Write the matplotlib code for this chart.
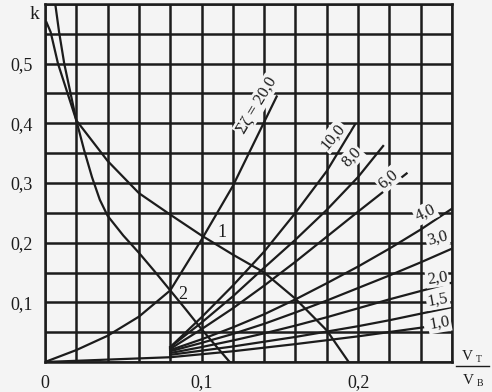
import numpy as np
import matplotlib.pyplot as plt
from matplotlib.lines import Line2D

plt.rcParams["font.family"] = ["Liberation Serif", "DejaVu Serif"]

INK = "#1c1c1c"
PAPER = "#f4f4f4"

# curve 1 and curve 2 (falling)
curve1_x = [0.001, 0.0036, 0.0083, 0.02, 0.04, 0.06, 0.08, 0.10, 0.12, 0.14, 0.16, 0.18, 0.194]
curve1_k = [0.569, 0.553, 0.500, 0.405, 0.337, 0.283, 0.247, 0.212, 0.180, 0.150, 0.106, 0.053, 0.0]
curve2_x = [0.0064, 0.009, 0.0123, 0.02, 0.025, 0.03, 0.035, 0.04, 0.05, 0.06, 0.07, 0.08, 0.09, 0.10, 0.118]
curve2_k = [0.603, 0.553, 0.500, 0.405, 0.355, 0.310, 0.272, 0.245, 0.212, 0.183, 0.152, 0.120, 0.088, 0.055, 0.0]

# sum zeta = 20,0 (from origin)
z20_x = [0.0, 0.02, 0.04, 0.06, 0.08, 0.10, 0.12, 0.148]
z20_k = [0.0, 0.020, 0.044, 0.076, 0.120, 0.205, 0.295, 0.445]

# base segment from origin to the pole of the fan
base_x = [0.0, 0.08]
base_k = [0.0, 0.008]

# fan of curves, by sum zeta
fan_labels = ["10,0", "8,0", "6,0", "4,0", "3,0", "2,0", "1,5", "1,0"]
fan_x = [
    [0.08, 0.10, 0.12, 0.14, 0.16, 0.18, 0.198],
    [0.08, 0.10, 0.12, 0.14, 0.16, 0.18, 0.20, 0.216],
    [0.08, 0.10, 0.12, 0.14, 0.16, 0.18, 0.20, 0.231],
    [0.08, 0.10, 0.12, 0.14, 0.16, 0.18, 0.20, 0.22, 0.24, 0.26],
    [0.08, 0.10, 0.12, 0.14, 0.16, 0.18, 0.20, 0.22, 0.24, 0.26],
    [0.08, 0.10, 0.12, 0.14, 0.16, 0.18, 0.20, 0.22, 0.24, 0.26],
    [0.08, 0.10, 0.12, 0.14, 0.16, 0.18, 0.20, 0.22, 0.24, 0.26],
    [0.08, 0.12, 0.16, 0.20, 0.2415],
]
fan_k = [
    [0.025, 0.075, 0.128, 0.185, 0.250, 0.320, 0.398],
    [0.025, 0.066, 0.110, 0.158, 0.205, 0.255, 0.310, 0.362],
    [0.022, 0.055, 0.090, 0.128, 0.168, 0.210, 0.252, 0.316],
    [0.020, 0.038, 0.058, 0.080, 0.105, 0.132, 0.160, 0.190, 0.222, 0.257],
    [0.018, 0.032, 0.047, 0.064, 0.083, 0.103, 0.124, 0.145, 0.167, 0.190],
    [0.015, 0.025, 0.036, 0.048, 0.061, 0.075, 0.090, 0.105, 0.119, 0.133],
    [0.012, 0.019, 0.026, 0.034, 0.042, 0.051, 0.060, 0.070, 0.081, 0.092],
    [0.008, 0.018, 0.030, 0.043, 0.058],
]
# label anchor (x, k) and angle for each fan curve
fan_label_x = [0.184, 0.196, 0.219, 0.243, 0.2505, 0.2505, 0.251, 0.252]
fan_label_k = [0.378, 0.343, 0.306, 0.250, 0.207, 0.141, 0.104, 0.065]
fan_label_rot = [50, 47, 40, 25, 15, 8, 10, 10]

x_ticks = [0.0, 0.1, 0.2]
x_tick_labels = ["0", "0,1", "0,2"]
y_ticks = [0.1, 0.2, 0.3, 0.4, 0.5]
y_tick_labels = ["0,1", "0,2", "0,3", "0,4", "0,5"]

fig = plt.figure(figsize=(4.92, 3.92), dpi=100, facecolor=PAPER)
ax = fig.add_axes([45 / 492, 30 / 392, 407 / 492, 358 / 392])
ax.set_facecolor(PAPER)
ax.set_xlim(0, 0.26)
ax.set_ylim(0, 0.6)

# grid every 0.02 on x and 0.05 on k
gx = np.round(np.arange(0, 0.2601, 0.02), 3)
gy = np.round(np.arange(0, 0.6001, 0.05), 3)
ax.set_xticks(gx)
ax.set_yticks(gy)
ax.set_xticklabels([x_tick_labels[x_ticks.index(v)] if v in x_ticks else "" for v in gx], fontsize=13)
ax.set_yticklabels([y_tick_labels[y_ticks.index(v)] if v in y_ticks else "" for v in gy], fontsize=13)
ax.tick_params(length=0, pad=9, colors=INK)
ax.grid(True, color=INK, linewidth=1.8)
ax.set_axisbelow(True)
for s in ax.spines.values():
    s.set_color(INK)
    s.set_linewidth(1.8)

lw = 1.6
ax.plot(curve1_x, curve1_k, color=INK, lw=lw)
ax.plot(curve2_x, curve2_k, color=INK, lw=lw)
ax.plot(z20_x, z20_k, color=INK, lw=lw)
ax.plot(base_x, base_k, color=INK, lw=lw)
for xs, ks in zip(fan_x, fan_k):
    ax.plot(xs, ks, color=INK, lw=lw)

box = dict(facecolor=PAPER, edgecolor="none", pad=1.0)
for lab, lx, lk, rot in zip(fan_labels, fan_label_x, fan_label_k, fan_label_rot):
    ax.text(lx, lk, lab, fontsize=12, rotation=rot, ha="center", va="center",
            color=INK, bbox=box, rotation_mode="anchor")
ax.text(0.135, 0.43, "\u03a3\u03b6 = 20,0", fontsize=12, rotation=59, ha="center",
        va="center", color=INK, bbox=box, rotation_mode="anchor")
ax.text(0.113, 0.217, "1", fontsize=13, ha="center", va="center", color=INK)
ax.text(0.088, 0.113, "2", fontsize=13, ha="center", va="center", color=INK)

ax.text(-0.007, 0.583, "k", fontsize=14, ha="center", va="center", color=INK, clip_on=False)

# V_T / V_B at the end of the x axis
def px(x, y):
    return x / 492, 1 - y / 392

fig.text(*px(467, 357), "V", fontsize=11, ha="center", va="center", color=INK)
fig.text(*px(479, 359), "\u0422", fontsize=7, ha="center", va="center", color=INK)
fig.text(*px(468, 381), "V", fontsize=11, ha="center", va="center", color=INK)
fig.text(*px(480, 384), "\u0412", fontsize=7, ha="center", va="center", color=INK)
x0, y0 = px(456, 366)
x1, _ = px(489, 366)
fig.add_artist(Line2D([x0, x1], [y0, y0], color=INK, lw=1.0))

fig.savefig("out.png", dpi=100, facecolor=PAPER)
